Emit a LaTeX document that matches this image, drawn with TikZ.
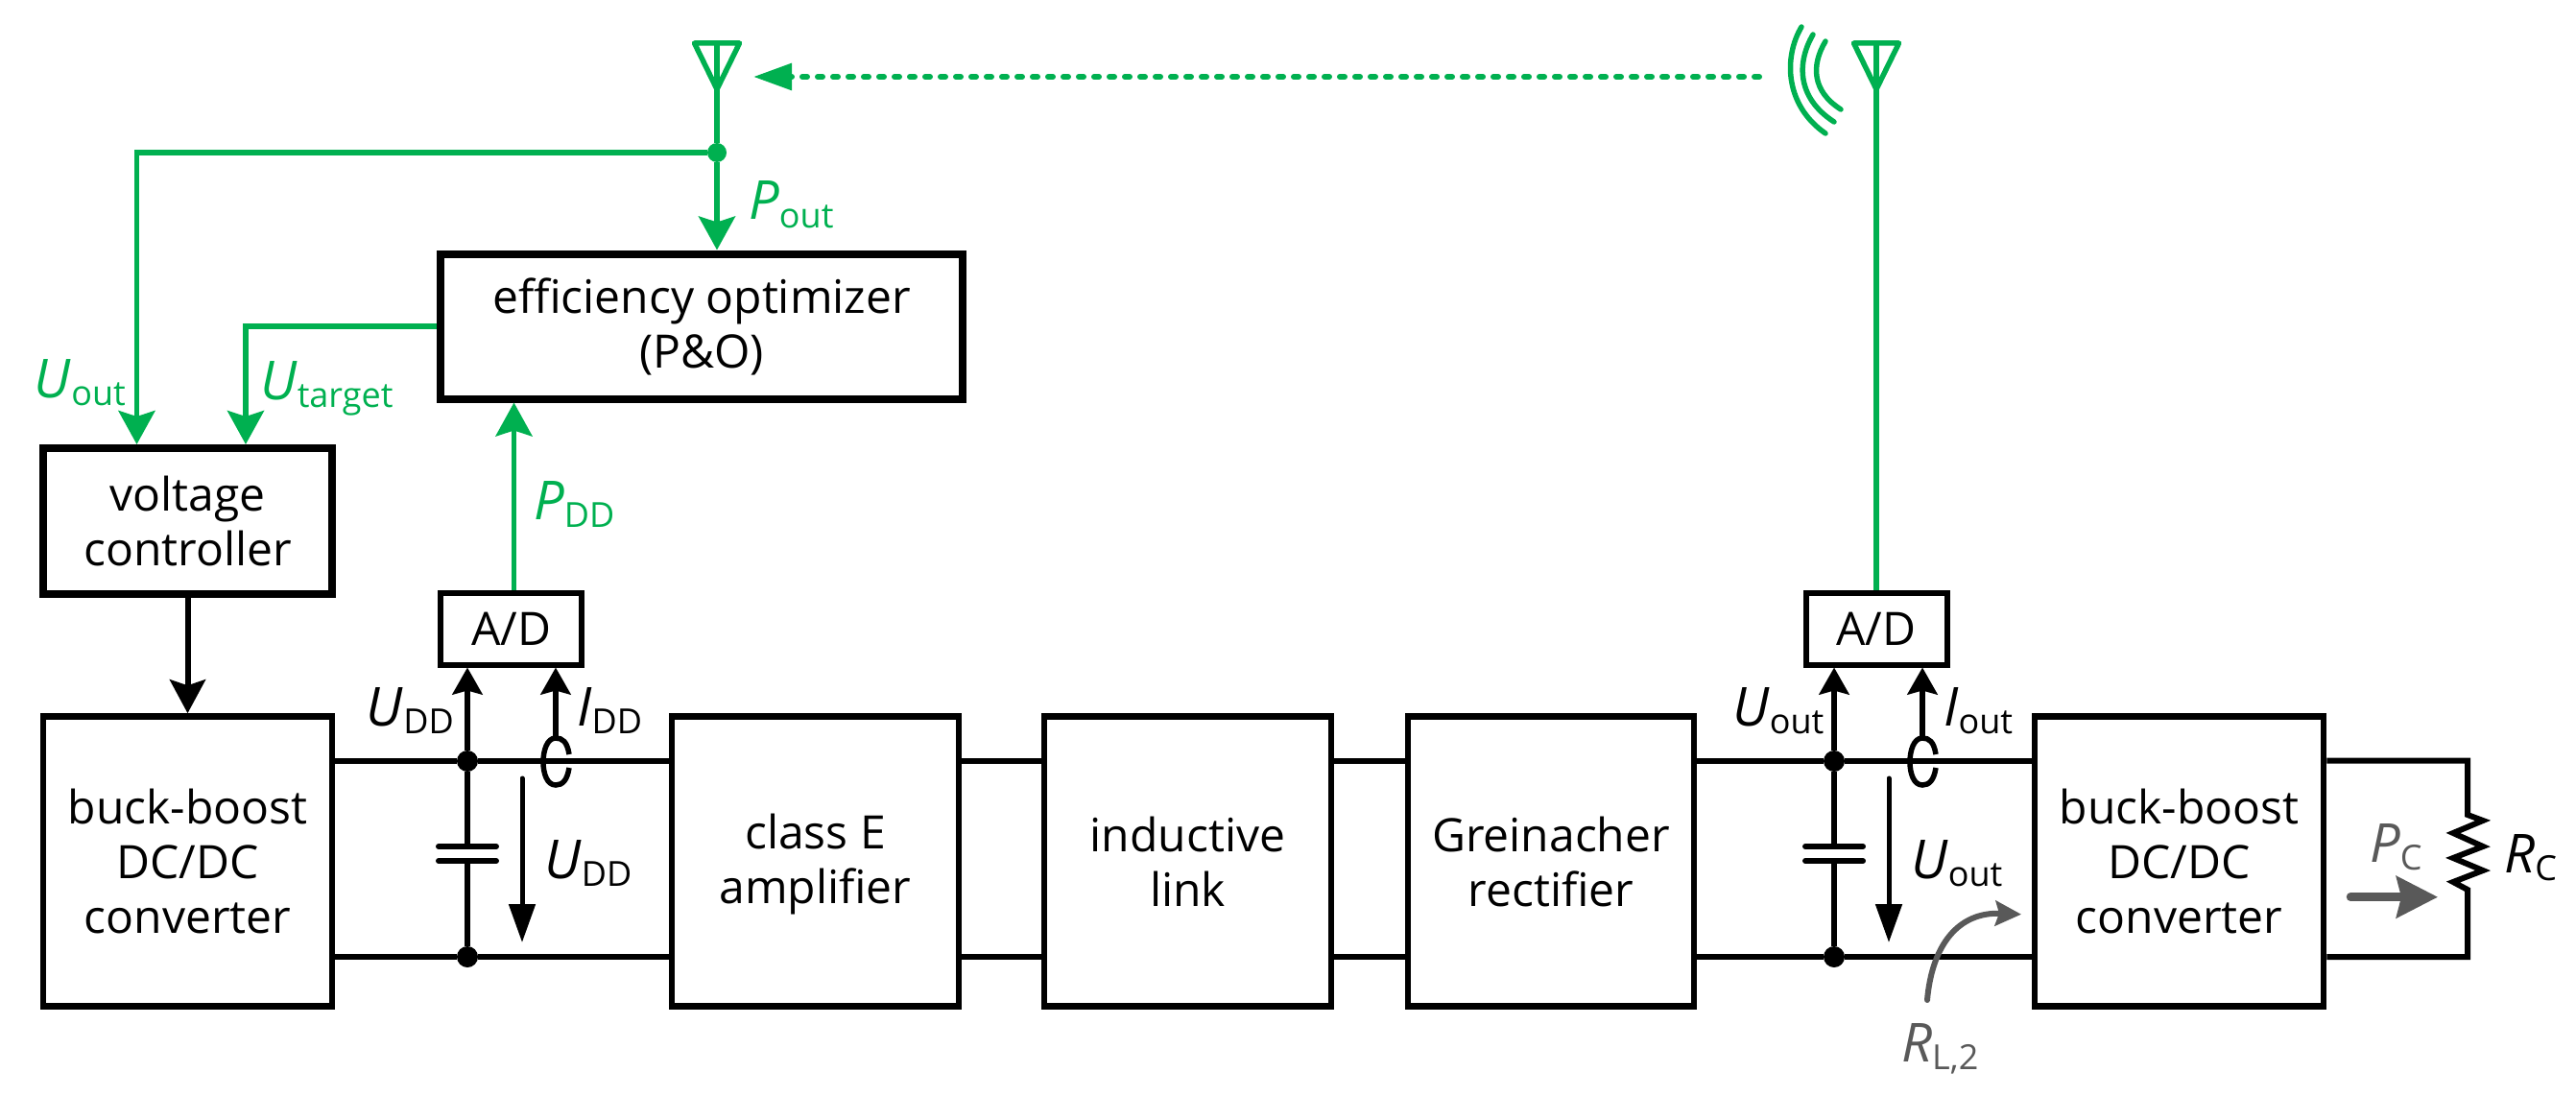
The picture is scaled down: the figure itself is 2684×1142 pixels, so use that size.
\documentclass[tikz,border=0pt]{standalone}
\usepackage{fontspec}
\setmainfont{Open Sans}
\usetikzlibrary{arrows.meta,calc}
\definecolor{gn}{HTML}{00B050}
\definecolor{gy}{HTML}{595959}
\newcommand\qq[2]{\textit{#1}\raisebox{-8.5pt}{\fontsize{36}{36}\selectfont #2}}
\tikzset{
  x=1pt,y=-1pt,
  txt/.style={font=\fontsize{48}{57}\selectfont,align=center},
  block/.style={draw=black,fill=white,line width=6.5pt,inner sep=0pt,txt},
  hblock/.style={block,line width=8pt},
  adc/.style={draw=black,fill=white,line width=6pt,inner sep=0pt,txt},
  lbl/.style={anchor=base west,inner sep=0pt,font=\fontsize{56}{60}\selectfont},
  dot/.style={circle,fill=#1,inner sep=0pt,minimum size=22pt},
  dot/.default=black,
  gline/.style={draw=gn,line width=5.5pt},
  gtip/.style={-{Stealth[length=35pt,width=38pt,inset=6pt]}},
  bus/.style={draw=black,line width=6.5pt},
  wire/.style={draw=black,line width=6pt},
  ktip/.style={-{Stealth[length=28pt,width=31pt,inset=4pt]}},
  wave/.style={draw=gn,line width=5.5pt,line cap=round},
  ant/.style={draw=gn,line width=5.5pt,line join=round},
  plate/.style={draw=black,line width=6pt,line cap=round},
}
\begin{document}
\begin{tikzpicture}
\useasboundingbox (0,0) rectangle (2684,1142);
% blocks
\node[hblock,minimum width=544pt,minimum height=151pt] (eff) at (731,340) {efficiency optimizer\\(P\&O)};
\node[hblock,minimum width=301pt,minimum height=152pt] (vc) at (195.5,543) {voltage\\controller};
\node[block,minimum width=301pt,minimum height=302pt] (bbl) at (195.5,897.5) {buck-boost\\DC/DC\\converter};
\node[block,minimum width=299pt,minimum height=302pt] (cle) at (849.5,897.5) {\rule{0pt}{42pt}class E\\amplifier};
\node[block,minimum width=299pt,minimum height=302pt] (ind) at (1237.5,897.5) {inductive\\link};
\node[block,minimum width=298pt,minimum height=302pt] (gre) at (1616,897.5) {Greinacher\\rectifier};
\node[block,minimum width=301pt,minimum height=302pt] (bbr) at (2270.5,897.5) {buck-boost\\DC/DC\\converter};
\node[adc,minimum width=147pt,minimum height=75pt] (adl) at (532.5,655) {A/D};
\node[adc,minimum width=147pt,minimum height=75pt] (adr) at (1955,655) {A/D};
% coordinates
\coordinate (anl) at (747,45);
\coordinate (anr) at (1955,45);
\coordinate (ctop) at (142.5,159);
\coordinate (rt) at (2571,792.5);
\coordinate (rb) at (2571,997);
\coordinate (rz1) at (2571,849);
\coordinate (rz2) at (2571,927);
\coordinate (dots) at (1833,80);
\coordinate (dtip) at (785,80);
\node[dot=gn,minimum size=20pt] (j0) at (747,159) {};
\node[dot] (j1) at (487,793) {};
\node[dot] (j2) at (487,997) {};
\node[dot] (j3) at (1911,793) {};
\node[dot] (j4) at (1911,997) {};
\coordinate (c1a) at (487,882);
\coordinate (c1b) at (487,897);
\coordinate (c2a) at (1911,882);
\coordinate (c2b) at (1911,897);
% buses
\draw[bus] (bbl.east |- j1) -- (j1) -- (cle.west |- j1);
\draw[bus] (bbl.east |- j2) -- (j2) -- (cle.west |- j2);
\draw[bus] (cle.east |- j1) -- (ind.west |- j1);
\draw[bus] (cle.east |- j2) -- (ind.west |- j2);
\draw[bus] (ind.east |- j1) -- (gre.west |- j1);
\draw[bus] (ind.east |- j2) -- (gre.west |- j2);
\draw[bus] (gre.east |- j3) -- (j3) -- (bbr.west |- j3);
\draw[bus] (gre.east |- j4) -- (j4) -- (bbr.west |- j4);
% capacitors
\draw[wire] (j1) -- (c1a);
\draw[wire] (c1b) -- (j2);
\draw[plate] ($(c1a)+(-30,0)$) -- ($(c1a)+(30,0)$);
\draw[plate] ($(c1b)+(-30,0)$) -- ($(c1b)+(30,0)$);
\draw[wire] (j3) -- (c2a);
\draw[wire] (c2b) -- (j4);
\draw[plate] ($(c2a)+(-30,0)$) -- ($(c2a)+(30,0)$);
\draw[plate] ($(c2b)+(-30,0)$) -- ($(c2b)+(30,0)$);
% sensing arrows
\draw[wire,ktip] (j1) -- (j1 |- adl.south);
\draw[wire,ktip] (j3) -- (j3 |- adr.south);
\coordinate (cl) at (579,769);
\coordinate (cr) at (2003,769);
\draw[wire,ktip] (cl) -- (cl |- adl.south);
\draw[wire,ktip] (cr) -- (cr |- adr.south);
\draw[wire,line width=5.5pt] (593,786) .. controls (591,773) and (586,769) .. (cl) .. controls (570,769) and (566,782) .. (566,794) .. controls (566,806) and (570,818) .. (579,818) .. controls (586,818) and (591,813) .. (593,800);
\draw[wire,line width=5.5pt] (2017,786) .. controls (2015,773) and (2010,769) .. (cr) .. controls (1994,769) and (1990,782) .. (1990,794) .. controls (1990,806) and (1994,818) .. (2003,818) .. controls (2010,818) and (2015,813) .. (2017,800);
% voltage arrows
\coordinate (ua) at (544,811);
\coordinate (ub) at (544,982);
\coordinate (uc) at (1968,811);
\coordinate (ud) at (1968,982);
\draw[wire,line width=5pt,line cap=round,-{Stealth[length=40pt,width=27pt,inset=0pt]}] (ua) -- (ub);
\draw[wire,line width=5pt,line cap=round,-{Stealth[length=40pt,width=27pt,inset=0pt]}] (uc) -- (ud);
% controller arrow
\draw[wire,-{Stealth[length=35pt,width=37pt,inset=6pt]}] (vc.south) -- (bbl.north);
% load
\draw[wire,line join=miter] (bbr.east |- rt) -- (rt) -- (rz1) -- (2587,855) -- (2556,868) -- (2587,882) -- (2556,894) -- (2587,907) -- (2556,919) -- (rz2) -- (rb) -- (bbr.east |- rb);
% green
\draw[gline] (anl) -- (j0);
\draw[ant] (723.5,45) -- (770.5,45) -- (747,93) -- cycle;
\draw[gline,gtip] (j0) -- (j0 |- eff.north);
\draw[gline,gtip] (j0) -- (ctop) -- (ctop |- vc.north);
\coordinate (tg) at (256,340);
\draw[gline,gtip] (eff.west) -- (tg) -- (tg |- vc.north);
\draw[gline,gtip] ([xshift=3pt]adl.north) -- ([xshift=3pt]adl.north |- eff.south);
\draw[gline] (adr.north) -- (anr);
\draw[ant] (1931.5,45) -- (1978.5,45) -- (1955,93) -- cycle;
\draw[draw=gn,line width=6pt,line cap=round,dash pattern=on 5pt off 11pt,-{Stealth[length=40pt,width=27pt,inset=0pt]}] (dots) -- (dtip);
\draw[wave] (1877,28) .. controls (1858,60) and (1860,110) .. (1902,139);
\draw[wave] (1889,36) .. controls (1872,65) and (1872,102) .. (1911,127);
\draw[wave] (1902,43) .. controls (1887,68) and (1888,95) .. (1918,114);
% grey arrows
\coordinate (pa) at (2449,934.7);
\coordinate (pb) at (2540,934.7);
\draw[draw=gy,line width=8.5pt,line cap=round,-{Stealth[length=43pt,width=43pt,inset=5pt]}] (pa) -- (pb);
\coordinate (la) at (2008,1042);
\coordinate (lb) at (2106,952.7);
\draw[draw=gy,line width=6pt,line cap=round,-{Stealth[length=27pt,width=26pt,inset=4pt]}] (la) .. controls (2013,985) and (2040,950) .. (lb);
% labels
\node[lbl,text=gn] (t1) at (35.6,414) {\qq{U}{out}};
\node[lbl,text=gn] (t2) at (271,416) {\qq{U}{target}};
\node[lbl,text=gn] (t3) at (780,229) {\qq{P}{out}};
\node[lbl,text=gn] (t4) at (556,541) {\qq{P}{DD}};
\node[lbl] (t5) at (381.6,756) {\qq{U}{DD}};
\node[lbl] (t6) at (601,756) {\qq{I}{DD}};
\node[lbl] (t7) at (567,915) {\qq{U}{DD}};
\node[lbl] (t8) at (1805,756) {\qq{U}{out}};
\node[lbl] (t9) at (2025,756) {\qq{I}{out}};
\node[lbl] (t10) at (1991,915) {\qq{U}{out}};
\node[lbl,text=gy] (t11) at (2469,898) {\qq{P}{C}};
\node[lbl] (t12) at (2609,909) {\qq{R}{C}};
\node[lbl,text=gy] (t13) at (1981,1106) {\qq{R}{L,2}};
\end{tikzpicture}
\end{document}
